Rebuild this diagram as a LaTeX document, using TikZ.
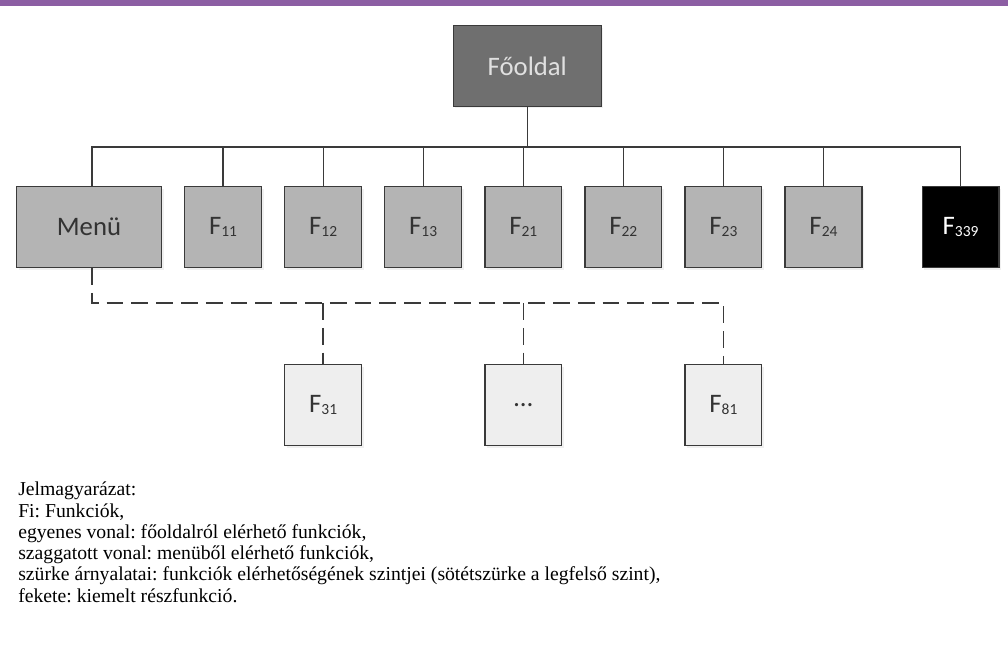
\documentclass[tikz,border=0pt]{standalone}
\usepackage{fontspec}
\setmainfont{Liberation Serif}
\setsansfont{Carlito}
\usetikzlibrary{positioning,calc,shadows}

\definecolor{framepurple}{HTML}{8C5EA3}
\definecolor{boxline}{HTML}{3A3A3A}
\definecolor{topgrey}{HTML}{6F6F6F}
\definecolor{midgrey}{HTML}{B4B4B4}
\definecolor{lightgrey}{HTML}{EEEEEE}
\definecolor{boxtext}{HTML}{333333}

% F with a small index
\newcommand{\fn}[1]{F\raisebox{-0.2ex}{\fontsize{11}{11}\selectfont #1}}

\begin{document}
\frenchspacing
\begin{tikzpicture}[node distance=0.55cm]
\tikzstyle{box} = [rectangle, draw=boxline, line width=0.9pt, fill=midgrey, text=boxtext, minimum width=1.92cm, minimum height=2.02cm, inner sep=0pt, font=\sffamily\fontsize{19}{19}\selectfont, drop shadow={shadow xshift=1.5pt, shadow yshift=-1.5pt, opacity=0.12}]
\tikzstyle{widebox} = [box, minimum width=3.62cm]
\tikzstyle{topbox} = [widebox, fill=topgrey, text=black!12, minimum width=3.7cm]
\tikzstyle{keybox} = [box, fill=black, text=white]
\tikzstyle{subbox} = [box, fill=lightgrey]
\tikzstyle{link} = [draw=boxline, line width=0.9pt]
\tikzstyle{menulink} = [draw=boxline, line width=1pt, dash pattern=on 0.42cm off 0.2cm]
\tikzstyle{legend} = [anchor=north west, align=left, inner sep=0pt, font=\fontsize{14}{15.1}\selectfont]

\useasboundingbox (0,0) rectangle (25.2cm,-16.125cm);

% purple band on top
\fill[framepurple] (0,0) rectangle (25.2cm,-0.15cm);

% first level
\node [widebox] (menu) at (2.225cm,-5.675cm) {Menü};
\node [box, right=of menu] (f11) {\fn{11}};
\node [box, right=of f11] (f12) {\fn{12}};
\node [box, right=of f12] (f13) {\fn{13}};
\node [box, right=of f13] (f21) {\fn{21}};
\node [box, right=of f21] (f22) {\fn{22}};
\node [box, right=of f22] (f23) {\fn{23}};
\node [box, right=of f23] (f24) {\fn{24}};
\node [keybox, right=1.475cm of f24] (f339) {\fn{339}};

% home page
\node [topbox, above=1.975cm of f21, xshift=0.1cm] (fooldal) {Főoldal};

% reached from the menu
\node [subbox, below=2.4cm of f12] (f31) {\fn{31}};
\node [subbox, below=2.4cm of f21] (dots) {\dots};
\node [subbox, below=2.4cm of f23] (f81) {\fn{81}};

% solid lines from the home page
\coordinate (bus) at ($(fooldal.south)+(0,-1cm)$);
\draw [link] (fooldal.south) -- (bus);
\draw [link] ([xshift=0.075cm]menu.north) |- (f339.north |- bus) -- (f339.north);
\foreach \n in {f11,f12,f13,f21,f22,f23,f24}
  \draw [link] (\n.north) -- (\n.north |- bus);

% dashed lines from the menu
\coordinate (dbus) at ($(menu.south)+(0,-0.875cm)$);
\draw [menulink] ([xshift=0.075cm]menu.south) |- (f81.north |- dbus) -- (f81.north);
\foreach \n in {f31,dots}
  \draw [menulink] (\n.north |- dbus) -- (\n.north);

% legend
\node [legend] (legend) at (0.45cm,-12.05cm) {Jelmagyarázat:\\
Fi: Funkciók,\\
egyenes vonal: főoldalról elérhető funkciók,\\
szaggatott vonal: menüből elérhető funkciók,\\
szürke árnyalatai: funkciók elérhetőségének szintjei (sötétszürke a legfelső szint),\\
fekete: kiemelt részfunkció.};

\end{tikzpicture}
\end{document}
